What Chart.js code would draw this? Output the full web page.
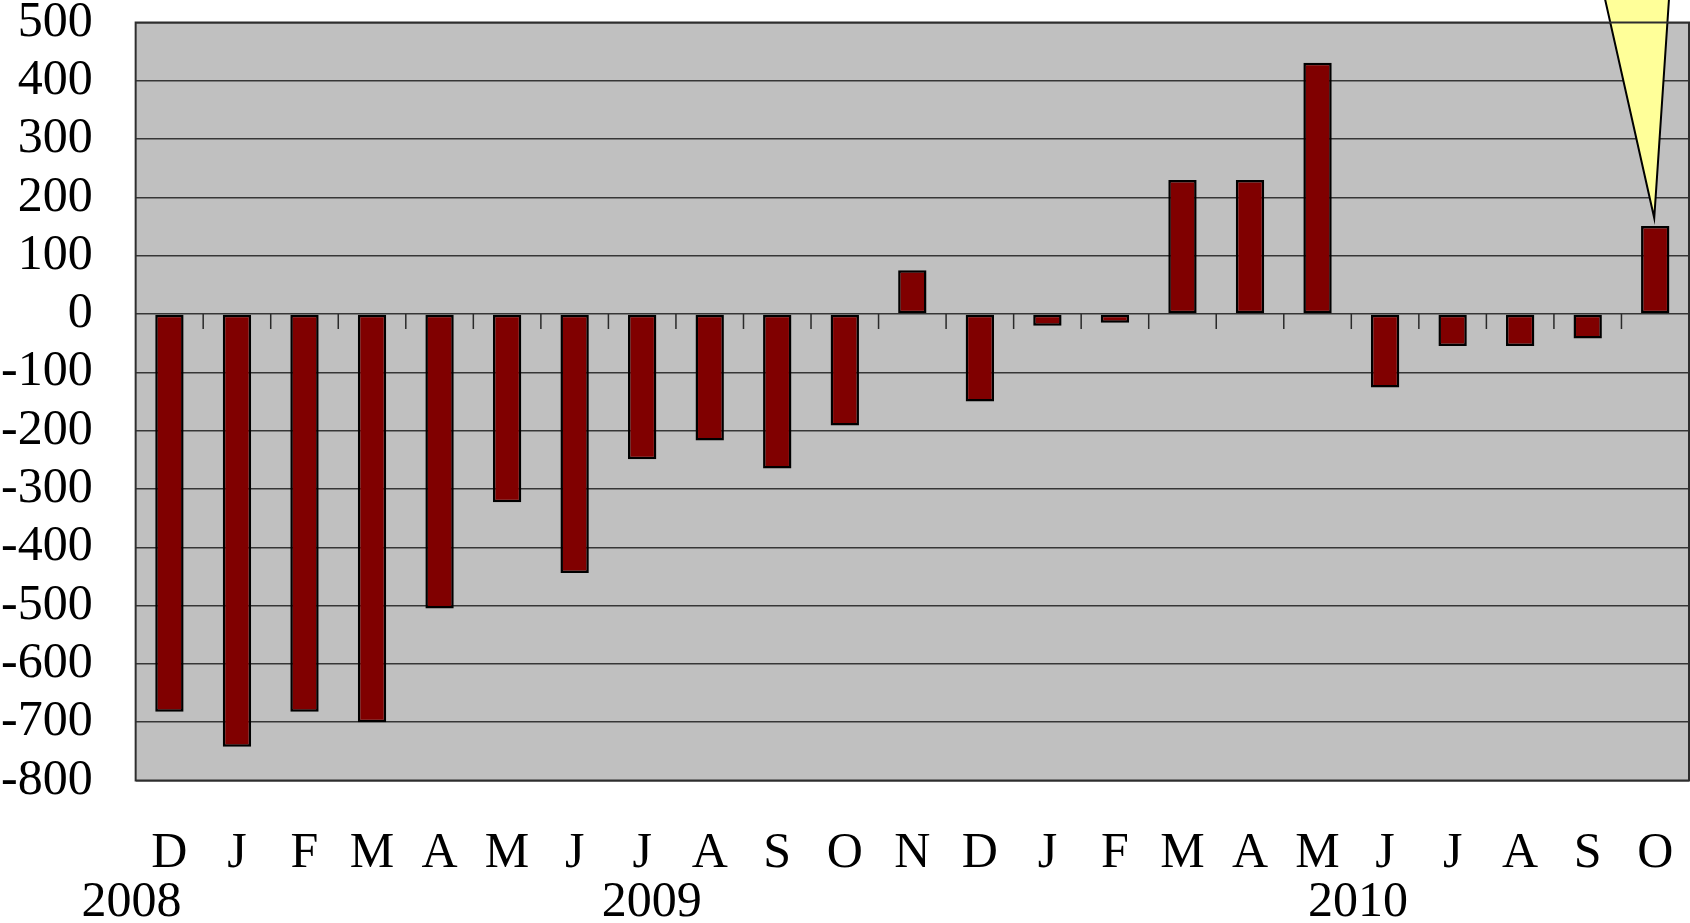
<!DOCTYPE html>
<html>
<head>
<meta charset="utf-8">
<style>
  html, body { margin: 0; padding: 0; background: #ffffff; }
  #wrap { width: 1690px; height: 923px; }
</style>
<script src="https://cdn.jsdelivr.net/npm/chart.js@4/dist/chart.umd.min.js"></script>
</head>
<body>
<div id="wrap"><canvas id="chart" width="1690" height="923"></canvas></div>
<script>
// Monthly change, Dec 2008 – Oct 2010
const months = ['D','J','F','M','A','M','J','J','A','S','O','N','D','J','F','M','A','M','J','J','A','S','O'];
const changes = [-682, -742, -682, -700, -505, -323, -444, -249, -217, -265, -191, 75, -150, -20, -15, 230, 230, 431, -126, -55, -55, -42, 151];
const years = ['2008', '2009', '2010'];
// where each year caption sits, in category units along the x axis
const yearAnchors = [-0.56, 7.14, 17.6];
const yMin = -800, yMax = 500, yStep = 100;

const FONT = 'Liberation Serif, Times New Roman, serif';

// grey plot background and dark frame
const plotFrame = {
  id: 'plotFrame',
  beforeDraw(chart) {
    const { ctx, chartArea: a } = chart;
    ctx.save();
    ctx.fillStyle = '#c0c0c0';
    ctx.fillRect(a.left, a.top, a.right - a.left, a.bottom - a.top);
    ctx.restore();
  },
  afterDraw(chart) {
    const { ctx, chartArea: a } = chart;
    ctx.save();
    ctx.strokeStyle = '#2e2e2e';
    ctx.lineWidth = 2;
    ctx.strokeRect(a.left, a.top, a.right - a.left, a.bottom - a.top);
    ctx.restore();
  }
};

// zero line with short tick marks between the months
const zeroTicks = {
  id: 'zeroTicks',
  beforeDatasetsDraw(chart) {
    const { ctx, scales: { x, y } } = chart;
    const y0 = y.getPixelForValue(0);
    ctx.save();
    ctx.strokeStyle = '#2a2a2a';
    ctx.lineWidth = 1.5;
    ctx.beginPath();
    for (let i = 1; i < months.length; i++) {
      const px = x.getPixelForValue(i - 0.5);
      ctx.moveTo(px, y0);
      ctx.lineTo(px, y0 + 15);
    }
    ctx.stroke();
    ctx.restore();
  }
};

// pointer callout aimed at the latest bar
const callout = {
  id: 'callout',
  afterDatasetsDraw(chart) {
    const { ctx } = chart;
    const meta = chart.getDatasetMeta(0);
    const bar = meta.data[meta.data.length - 1];
    const tipX = bar.x - 1;
    const tipY = bar.y - 8;
    const topY = -20;
    const h = tipY - topY;
    ctx.save();
    ctx.beginPath();
    ctx.moveTo(tipX - 0.2248 * h, topY);
    ctx.lineTo(tipX, tipY);
    ctx.lineTo(tipX + 0.0674 * h, topY);
    ctx.closePath();
    ctx.fillStyle = '#ffff99';
    ctx.fill();
    ctx.strokeStyle = '#000000';
    ctx.lineWidth = 2;
    ctx.lineJoin = 'miter';
    ctx.stroke();
    ctx.restore();
  }
};

// year captions under the month letters
const yearLabels = {
  id: 'yearLabels',
  afterDraw(chart) {
    const { ctx, chartArea: a, scales: { x } } = chart;
    ctx.save();
    ctx.font = '50px ' + FONT;
    ctx.fillStyle = '#000000';
    ctx.textAlign = 'center';
    ctx.textBaseline = 'middle';
    years.forEach((yr, i) => {
      ctx.fillText(yr, x.getPixelForValue(yearAnchors[i]), a.bottom + 122.5);
    });
    ctx.restore();
  }
};

Chart.defaults.font.family = FONT;

new Chart(document.getElementById('chart'), {
  type: 'bar',
  data: {
    labels: months,
    datasets: [{
      data: changes,
      backgroundColor: '#800000',
      borderColor: '#000000',
      borderWidth: 2.5,
      borderSkipped: false,
      categoryPercentage: 1,
      barPercentage: 0.42
    }]
  },
  options: {
    responsive: false,
    animation: false,
    events: [],
    layout: { padding: { left: 1, right: 1, top: 0, bottom: 39.5 } },
    plugins: {
      legend: { display: false },
      tooltip: { enabled: false },
      title: { display: false }
    },
    scales: {
      x: {
        grid: {
          display: true,
          drawOnChartArea: false,
          drawTicks: true,
          tickLength: 43,
          tickColor: 'rgba(0,0,0,0)'
        },
        border: { display: false },
        ticks: {
          padding: 0,
          color: '#000000',
          font: { family: FONT, size: 50, lineHeight: 1.2 },
          autoSkip: false,
          maxRotation: 0,
          minRotation: 0
        }
      },
      y: {
        min: yMin,
        max: yMax,
        grid: {
          color: '#363636',
          lineWidth: 1.5,
          drawTicks: true,
          tickLength: 43,
          tickColor: 'rgba(0,0,0,0)'
        },
        border: { display: false },
        ticks: {
          stepSize: yStep,
          padding: 0,
          color: '#000000',
          font: { family: FONT, size: 50, lineHeight: 0.9 }
        }
      }
    }
  },
  plugins: [plotFrame, zeroTicks, callout, yearLabels]
});
</script>
</body>
</html>
